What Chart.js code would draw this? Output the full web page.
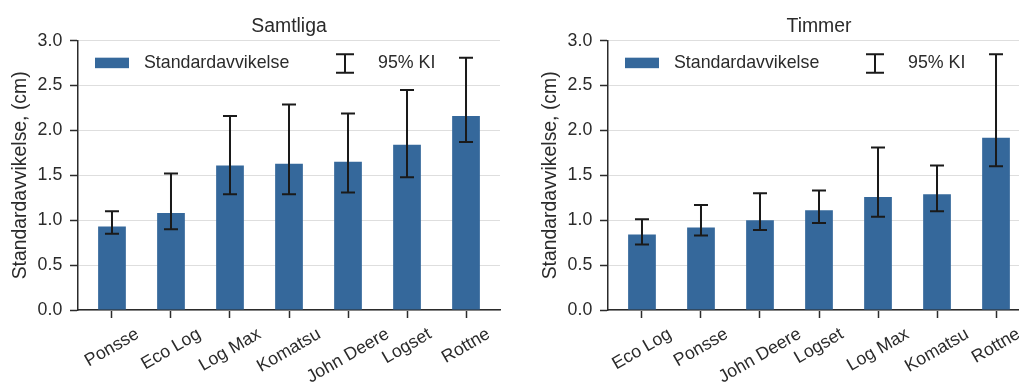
<!DOCTYPE html>
<html>
<head>
<meta charset="utf-8">
<script src="https://cdn.jsdelivr.net/npm/chart.js@4"></script>
<style>
  html, body { margin: 0; padding: 0; background: #fff; overflow: hidden; width: 1019px; height: 383px; }
  .box { position: absolute; top: 0; width: 509px; height: 383px; }
  #box1 { left: 0; }
  #box2 { left: 530px; }
</style>
</head>
<body>
<div class="box" id="box1"><canvas id="chart1" width="509" height="383"></canvas></div>
<div class="box" id="box2"><canvas id="chart2" width="509" height="383"></canvas></div>
<script>
// Samtliga
const samtligaLabels = ['Ponsse', 'Eco Log', 'Log Max', 'Komatsu', 'John Deere', 'Logset', 'Rottne']
const samtligaSd     = [0.93, 1.08, 1.61, 1.63, 1.65, 1.84, 2.16]
const samtligaLow    = [0.85, 0.90, 1.29, 1.29, 1.31, 1.48, 1.87]
const samtligaHigh   = [1.10, 1.52, 2.16, 2.29, 2.19, 2.45, 2.81]

// Timmer
const timmerLabels = ['Eco Log', 'Ponsse', 'John Deere', 'Logset', 'Log Max', 'Komatsu', 'Rottne']
const timmerSd     = [0.84, 0.92, 1.00, 1.11, 1.26, 1.29, 1.92]
const timmerLow    = [0.73, 0.83, 0.89, 0.97, 1.04, 1.10, 1.60]
const timmerHigh   = [1.01, 1.17, 1.30, 1.33, 1.81, 1.61, 2.85]

const yTickStep = 0.5
const yMax = 3.0

const barColor = '#35689b'
const textColor = '#2b2b2b'
const fontFamily = '"Liberation Sans", Arial, sans-serif'
const tickSize = 17.8
const labelSize = 19.4

function errorBarPlugin(low, high) {
  return {
    id: 'errorBars',
    afterDatasetsDraw(chart) {
      const ctx = chart.ctx
      const y = chart.scales.y
      const meta = chart.getDatasetMeta(0)
      ctx.save()
      ctx.strokeStyle = '#1a1a1a'
      ctx.lineWidth = 2
      meta.data.forEach((bar, i) => {
        const lo = y.getPixelForValue(low[i])
        const hi = y.getPixelForValue(high[i])
        ctx.beginPath()
        ctx.moveTo(bar.x, lo); ctx.lineTo(bar.x, hi)
        ctx.moveTo(bar.x - 7, lo); ctx.lineTo(bar.x + 7, lo)
        ctx.moveTo(bar.x - 7, hi); ctx.lineTo(bar.x + 7, hi)
        ctx.stroke()
      })
      ctx.restore()
    }
  }
}

// rotated x labels, centred on the tick like matplotlib does
function xLabelPlugin(labels) {
  return {
    id: 'xLabels',
    afterDraw(chart) {
      const ctx = chart.ctx
      const x = chart.scales.x
      const top = chart.chartArea.bottom + 14
      const ang = 30 * Math.PI / 180
      ctx.save()
      ctx.font = `${tickSize}px ${fontFamily}`
      ctx.fillStyle = textColor
      ctx.textAlign = 'center'
      ctx.textBaseline = 'middle'
      labels.forEach((lab, i) => {
        const w = ctx.measureText(lab).width
        const h = tickSize * 1.15
        const H = w * Math.sin(ang) + h * Math.cos(ang)
        ctx.save()
        ctx.translate(x.getPixelForValue(i), top + H / 2)
        ctx.rotate(-ang)
        ctx.fillText(lab, 0, 0)
        ctx.restore()
      })
      ctx.restore()
    }
  }
}

const legendPlugin = {
  id: 'innerLegend',
  afterDraw(chart) {
    const ctx = chart.ctx
    const L = chart.chartArea.left
    const T = chart.chartArea.top
    ctx.save()
    ctx.fillStyle = barColor
    ctx.fillRect(L + 17, T + 17, 34, 10.5)
    ctx.font = `${tickSize}px ${fontFamily}`
    ctx.fillStyle = textColor
    ctx.textBaseline = 'middle'
    ctx.fillText('Standardavvikelse', L + 66, T + 22.5)
    ctx.strokeStyle = '#1a1a1a'
    ctx.lineWidth = 2
    const ex = L + 267
    ctx.beginPath()
    ctx.moveTo(ex, T + 13.5); ctx.lineTo(ex, T + 32)
    ctx.moveTo(ex - 9, T + 13.5); ctx.lineTo(ex + 9, T + 13.5)
    ctx.moveTo(ex - 9, T + 32); ctx.lineTo(ex + 9, T + 32)
    ctx.stroke()
    ctx.fillText('95% KI', L + 300, T + 22.5)
    ctx.restore()
  }
}

function makeChart(id, title, labels, sd, low, high) {
  const ctx = document.getElementById(id).getContext('2d')
  return new Chart(ctx, {
    type: 'bar',
    data: {
      datasets: [{
        data: sd.map((v, i) => ({ x: i, y: v })),
        backgroundColor: barColor,
        borderWidth: 0,
        barPercentage: 0.47,
        categoryPercentage: 1
      }]
    },
    options: {
      responsive: false,
      animation: false,
      layout: { padding: { left: 0, right: 9, top: 0, bottom: 0 } },
      plugins: {
        legend: { display: false },
        tooltip: { enabled: false },
        title: {
          display: true,
          text: title,
          fullSize: false,
          color: textColor,
          font: { family: fontFamily, size: labelSize, weight: 'normal' },
          padding: { top: 15, bottom: 2.4 }
        }
      },
      scales: {
        x: {
          type: 'linear',
          offset: false,
          min: -0.576,
          max: labels.length - 1 + 0.576,
          afterBuildTicks: s => { s.ticks = labels.map((_, i) => ({ value: i })) },
          ticks: { display: false },
          grid: { offset: false, drawOnChartArea: false, drawTicks: true, tickLength: 8, tickColor: textColor, tickWidth: 1.5 },
          border: { color: textColor, width: 1.5 },
          afterFit: s => { s.height = 73 }
        },
        y: {
          min: 0,
          max: yMax,
          ticks: {
            stepSize: yTickStep,
            callback: v => v.toFixed(1),
            color: textColor,
            font: { family: fontFamily, size: tickSize },
            padding: 7.7
          },
          grid: { color: '#dedede', lineWidth: 1, tickColor: textColor, tickLength: 8, tickWidth: 1.5 },
          border: { color: textColor, width: 1.5 },
          title: {
            display: true,
            text: 'Standardavvikelse, (cm)',
            color: textColor,
            font: { family: fontFamily, size: labelSize },
            padding: { top: 9, bottom: 0 }
          },
          afterFit: s => { s.width = 78 }
        }
      }
    },
    plugins: [errorBarPlugin(low, high), xLabelPlugin(labels), legendPlugin]
  })
}

makeChart('chart1', 'Samtliga', samtligaLabels, samtligaSd, samtligaLow, samtligaHigh)
makeChart('chart2', 'Timmer', timmerLabels, timmerSd, timmerLow, timmerHigh)
</script>
</body>
</html>
